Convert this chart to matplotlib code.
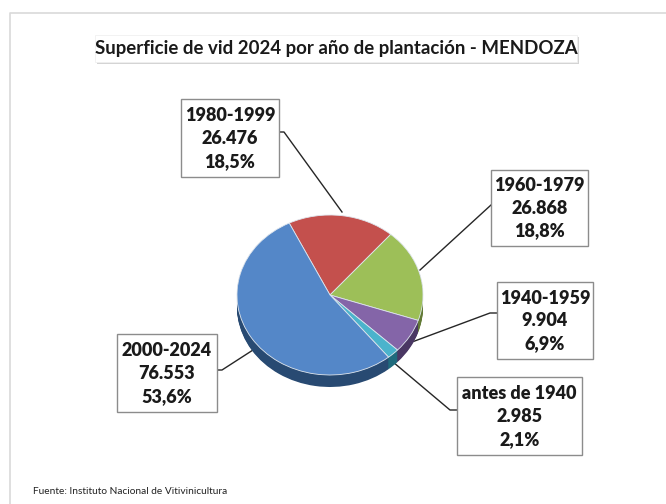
import matplotlib
matplotlib.use('Agg')
import matplotlib.pyplot as plt
from matplotlib.patches import Rectangle

# datos (orden horario desde el corte superior izquierdo)
periodos = ['1980-1999', '1960-1979', '1940-1959', 'antes de 1940', '2000-2024']
hectareas = [26476, 26868, 9904, 2985, 76553]
porcentajes = ['18,5%', '18,8%', '6,9%', '2,1%', '53,6%']
hect_txt = ['26.476', '26.868', '9.904', '2.985', '76.553']

col_top = ['#c4504d', '#9dbf58', '#8465a8', '#4bb3cc', '#5487c8']
col_side = ['#7d2f2d', '#627a35', '#4a3763', '#1f6b7d', '#284a72']

W, H = 666, 504
fig = plt.figure(figsize=(W / 100, H / 100), dpi=100)
fig.patch.set_facecolor('white')

# eje de superposicion en pixeles
ov = fig.add_axes([0, 0, 1, 1])
ov.set_xlim(0, W)
ov.set_ylim(H, 0)
ov.axis('off')

# borde del area del grafico
ov.plot([10, 10, W + 5], [H + 5, 13, 13], color='#d9d9d9', lw=1.2)

# torta "3D": elipse rx=93 px, ry=80 px, centro (330, 295)
cx, cy, rx, ry = 330, 295, 93, 80
lim = 1.2
pie_ax = fig.add_axes([(cx - lim * rx) / W, (H - cy - lim * ry) / H,
                       2 * lim * rx / W, 2 * lim * ry / H])
depth = 0.15
n_layers = 15
for i in range(n_layers, 0, -1):
    off = -depth * i / n_layers
    pie_ax.pie(hectareas, colors=col_side, startangle=116, counterclock=False,
               center=(0, off), wedgeprops=dict(linewidth=0))
pie_ax.pie(hectareas, colors=col_top, startangle=116, counterclock=False,
           wedgeprops=dict(edgecolor='#dfe6ee', linewidth=0.6))
pie_ax.set_aspect('auto')
pie_ax.set_xlim(-lim, lim)
pie_ax.set_ylim(-lim, lim)
pie_ax.axis('off')

# titulo con sombra
ov.add_patch(Rectangle((97, 37), 482, 27, facecolor='#d4d4d4', edgecolor='none', zorder=2))
ov.add_patch(Rectangle((95, 35), 482, 27, facecolor='white', edgecolor='#f0f0f0', lw=0.6, zorder=3))
ov.text(336, 48.5, 'Superficie de vid 2024 por año de plantación - MENDOZA',
        ha='center', va='center', fontsize=13.4, fontweight='bold', family='Lato',
        color='#1a1a1a', zorder=4)

# cajas de etiquetas: (x0, y0, x1, y1)
cajas = [(181, 99, 279, 177), (491, 170, 588, 246), (497, 282, 593, 359),
         (457, 377, 582, 455), (117, 334, 217, 412)]
# lineas guia
guias = [[(342, 212), (284, 132), (279, 132)],
         [(420, 270), (491, 205)],
         [(412, 342), (490, 313), (497, 313)],
         [(393, 362), (450, 410), (457, 410)],
         [(253, 350), (222, 370), (217, 370)]]

for i, p in enumerate(periodos):
    x0, y0, x1, y1 = cajas[i]
    ov.add_patch(Rectangle((x0, y0), x1 - x0, y1 - y0, facecolor='white',
                           edgecolor='#8c8c8c', lw=1.0, zorder=3))
    xm = (x0 + x1) / 2
    hh = (y1 - y0)
    for k, t in enumerate([p, hect_txt[i], porcentajes[i]]):
        ov.text(xm, y0 + hh * (0.21 + 0.295 * k), t, ha='center', va='center',
                fontsize=13, fontweight='heavy', family='Lato', color='#1a1a1a', zorder=4)
    xs, ys = zip(*guias[i])
    ov.plot(xs, ys, color='#262626', lw=1.0, zorder=2)

ov.text(33, 492, 'Fuente: Instituto Nacional de Vitivinicultura', ha='left', va='center',
        fontsize=7.3, family='Lato', color='#222222')

fig.savefig('out.png', dpi=100)
